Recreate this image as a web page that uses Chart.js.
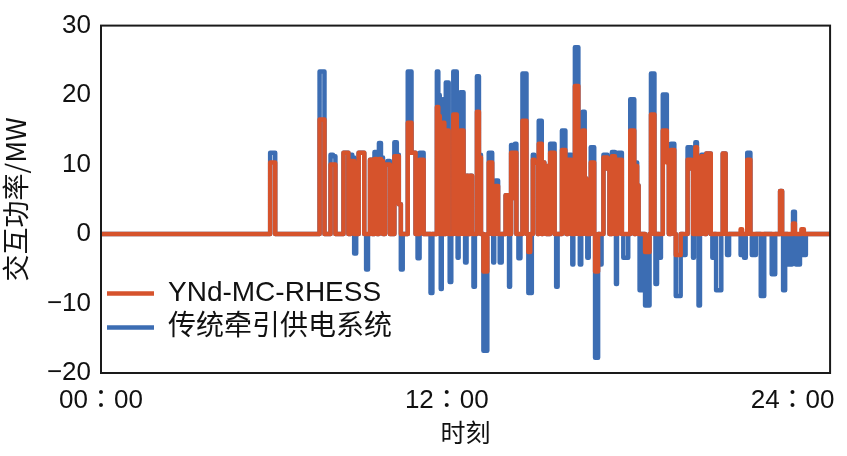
<!DOCTYPE html>
<html lang="zh">
<head>
<meta charset="UTF-8">
<title>交互功率</title>
<script src="https://cdn.jsdelivr.net/npm/chart.js"></script>
<style>
  body { margin: 0; background: #fff; }
  #wrap { width: 847px; height: 456px; }
</style>
</head>
<body>
<div id="wrap"><canvas id="chart" width="847" height="456"></canvas></div>
<script>
// time of day in hours, with the two power traces (MW)
const hours = [
  0, 5.84, 5.90, 6.01, 6.08, 7.55, 7.62, 7.72, 7.79, 7.93,
  8.00, 8.10, 8.17, 8.38, 8.45, 8.55, 8.62, 8.69, 8.75, 8.82,
  8.89, 8.99, 9.10, 9.17, 9.23, 9.30, 9.37, 9.44, 9.54, 9.61,
  9.68, 9.75, 9.82, 9.89, 9.99, 10.06, 10.13, 10.23, 10.30, 10.37,
  10.44, 10.50, 10.61, 10.68, 10.74, 10.81, 10.88, 10.95, 11.02, 11.09,
  11.16, 11.23, 11.40, 11.47, 11.53, 11.64, 11.67, 11.74, 11.77, 11.81,
  11.84, 11.88, 11.95, 11.98, 12.05, 12.08, 12.12, 12.19, 12.26, 12.33,
  12.36, 12.39, 12.43, 12.50, 12.56, 12.60, 12.67, 12.70, 12.77, 12.84,
  12.91, 12.94, 13.01, 13.08, 13.15, 13.22, 13.32, 13.39, 13.42, 13.49,
  13.56, 13.59, 13.63, 13.66, 13.73, 13.76, 13.80, 13.87, 13.94, 14.01,
  14.07, 14.11, 14.14, 14.18, 14.21, 14.25, 14.32, 14.35, 14.38, 14.45,
  14.52, 14.59, 14.66, 14.73, 14.80, 14.86, 14.93, 14.97, 15.00, 15.07,
  15.14, 15.17, 15.21, 15.28, 15.31, 15.35, 15.42, 15.48, 15.52, 15.55,
  15.62, 15.72, 15.76, 15.83, 15.86, 15.96, 16.03, 16.10, 16.13, 16.17,
  16.24, 16.31, 16.34, 16.37, 16.41, 16.48, 16.55, 16.58, 16.65, 16.68,
  16.75, 16.82, 16.86, 16.89, 16.96, 17.03, 17.10, 17.13, 17.16, 17.23,
  17.27, 17.34, 17.40, 17.47, 17.54, 17.61, 17.68, 17.78, 17.82, 17.85,
  17.89, 17.92, 17.95, 18.06, 18.09, 18.16, 18.26, 18.33, 18.40, 18.47,
  18.54, 18.57, 18.64, 18.67, 18.71, 18.78, 18.85, 18.91, 19.02, 19.05,
  19.12, 19.19, 19.22, 19.26, 19.33, 19.40, 19.46, 19.53, 19.60, 19.67,
  19.74, 19.81, 19.88, 19.91, 19.98, 20.08, 20.15, 20.25, 20.32, 20.39,
  20.46, 20.53, 20.56, 20.59, 20.66, 20.70, 20.77, 20.80, 20.87, 20.94,
  20.97, 21.04, 21.14, 21.18, 21.25, 21.31, 21.38, 21.49, 21.56, 21.59,
  21.66, 21.69, 21.76, 21.83, 22.18, 22.21, 22.28, 22.35, 22.40, 22.45,
  22.52, 22.55, 22.62, 22.69, 22.76, 22.86, 22.93, 23.00, 23.03, 23.24,
  23.31, 23.38, 23.41, 23.55, 23.58, 23.62, 23.65, 23.69, 23.72, 23.76,
  23.89, 23.96, 24.00, 24.03, 24.06, 24.10, 24.13, 24.24, 24.27, 24.34,
  24.44, 24.48, 25.30
];

// 传统牵引供电系统 (blue)
const tractionMW = [
  0, 0, 11.7, 11.7, 0, 0, 23.4, 23.4, 0, 0,
  11.4, 11.2, 0, 0, 11.7, 11.7, 0, 11.4, 11.0, -2.8,
  0, 11.7, 11.7, 0, -5.1, 0, 10.7, 0, 11.8, 0,
  13.1, 11.0, 0, 10.0, 10.5, 0, 0, 13.2, 11.4, 4.3,
  -5.1, 0, 0, 23.4, 23.4, 11.7, 11.7, 0, -3.5, 11.7,
  11.7, 0, 0, -8.5, 0, 0, 23.4, 20.0, 0, -7.9,
  0, 19.4, 0, 21.8, 21.8, 0, -6.9, 0, 23.4, 23.4,
  0, -3.4, 0, 20.4, 20.4, 0, -4.1, 8.4, 0, 8.4,
  0, -7.6, 0, 22.7, 11.4, 0, -16.8, -16.8, 0, 11.7,
  11.7, 0, -4.1, 0, 7.7, 7.7, 0, -4.1, 0, 0,
  5.6, 5.6, 0, -7.6, 0, 12.8, 12.8, 5.2, 13.0, 0,
  -3.5, 0, 23.1, 23.1, 0, -8.5, -8.5, 0, 11.4, 10.3,
  10.3, 0, 16.3, 16.3, 0, 10.3, 9.8, 0, 9.8, 0,
  13.0, 13.0, 0, -7.6, 0, 0, 14.9, 14.9, 10.7, 0,
  11.4, 11.4, 0, -4.4, 0, 26.9, 26.9, 0, -4.4, 0,
  17.6, 8.0, 0, -3.4, 0, 12.5, 12.5, 0, -17.8, -17.8,
  0, -4.4, 0, 11.4, 11.4, 9.4, 0, 11.8, 11.8, 0,
  -7.2, 0, 11.7, 11.7, 0, -3.4, -3.4, 0, 19.4, 19.4,
  0, 10.3, 7.0, 0, -8.1, 0, 0, -10.3, -10.3, 0,
  23.1, 23.1, 0, -7.2, 0, -3.4, 0, 20.1, 20.1, 11.2,
  0, 13.0, 13.0, 0, -8.9, -8.9, 0, -3.0, 0, 12.5,
  12.5, 9.4, -3.4, 0, 13.2, 0, -10.3, 0, 11.4, 11.4,
  0, 11.6, 11.6, 0, -3.4, 0, -8.1, -8.1, 0, 11.6,
  11.6, 0, -3.0, 0, 0, -3.0, 0, -3.4, 0, 11.7,
  11.7, 0, -3.0, -3.0, 0, 0, -8.9, -8.9, 0, 0,
  -5.8, -5.8, 0, 0, 6.2, 6.2, 0, -8.1, -8.1, 0,
  -4.4, -4.4, 0, 3.2, 3.2, 0, -4.4, -4.4, 0, -3.0,
  -3.0, 0, 0
];

// YNd-MC-RHESS (orange)
const rhessMW = [
  0, 0, 10.3, 10.3, 0, 0, 16.5, 16.5, 0, 0,
  10.0, 10.0, 0, 0, 11.7, 11.7, 0, 10.5, 10.5, 0,
  0, 11.7, 11.7, 0, 0, 0, 10.7, 0, 10.8, 0,
  10.8, 10.5, 0, 10.0, 10.0, 0, 0, 11.2, 11.2, 4.3,
  0, 0, 0, 16.0, 16.0, 11.7, 11.7, 0, 0, 10.7,
  10.7, 0, 0, 0, 0, 0, 18.3, 17.0, 0, 0,
  0, 16.0, 0, 14.9, 14.9, 0, 0, 0, 17.2, 17.2,
  0, 0, 0, 14.9, 14.9, 0, 0, 8.4, 0, 8.4,
  0, 0, 0, 17.6, 11.0, 0, -5.4, -5.4, 0, 10.3,
  10.3, 0, 0, 0, 6.9, 6.9, 0, 0, 0, 0,
  5.6, 5.6, 0, 0, 0, 11.7, 11.7, 5.2, 11.7, 0,
  0, 0, 16.3, 16.3, 0, -2.6, 0, 0, 10.7, 10.3,
  10.3, 0, 13.0, 13.0, 0, 10.3, 9.8, 0, 9.8, 0,
  11.7, 11.7, 0, 0, 0, 0, 12.1, 12.1, 10.7, 0,
  10.7, 10.7, 0, 0, 0, 21.3, 21.3, 0, 0, 0,
  14.9, 8.0, 0, 0, 0, 10.3, 10.3, 0, -5.4, -5.4,
  0, 0, 0, 11.0, 11.0, 9.4, 0, 11.2, 11.2, 0,
  0, 0, 10.7, 10.7, 0, 0, 0, 0, 14.9, 14.9,
  0, 9.8, 7.0, 0, 0, 0, 0, -2.6, -2.6, 0,
  17.2, 17.2, 0, 0, 0, 0, 0, 14.9, 14.9, 10.3,
  0, 12.1, 12.1, 0, -3.0, -3.0, 0, 0, 0, 10.7,
  10.7, 9.4, 0, 0, 12.5, 0, 0, 0, 11.2, 11.2,
  0, 11.6, 11.6, 0, 0, 0, 0, 0, 0, 11.6,
  11.6, 0, 0, 0, 0, 0.7, 0, 0, 0, 10.7,
  10.7, 0, 0, 0, 0, 0, 0, 0, 0, 0,
  0, 0, 0, 0, 6.2, 6.2, 0, 0, 0, 0,
  0, 0, 0, 1.5, 1.5, 0, 0, 0, 0, 0.7,
  0, 0, 0
];

const xTickHours = [0, 12, 24];
const yMin = -20, yMax = 30, yStep = 10;

const latin = '"Liberation Sans", "Noto Sans CJK TC", sans-serif';
const cjk = '"Noto Sans CJK SC", sans-serif';
const orange = '#d6532c';
const blue = '#3c6db3';

function pts(vals) {
    return hours.map((h, i) => ({ x: h, y: vals[i] }));
}

// black frame round the plot area
const frame = {
    id: 'frame',
    afterDatasetsDraw(chart) {
        const a = chart.chartArea;
        const c = chart.ctx;
        c.save();
        c.strokeStyle = '#1a1a1a';
        c.lineWidth = 2;
        c.strokeRect(a.left, a.top, a.right - a.left, a.bottom - a.top);
        c.restore();
    }
};

new Chart(document.getElementById('chart'), {
    type: 'line',
    data: {
        datasets: [{
            label: 'YNd-MC-RHESS',
            data: pts(rhessMW),
            borderColor: orange,
            backgroundColor: orange,
            borderWidth: 4.5,
            borderJoinStyle: 'round',
            stepped: 'middle',
            pointRadius: 0
        }, {
            label: '传统牵引供电系统',
            data: pts(tractionMW),
            borderColor: blue,
            backgroundColor: blue,
            borderWidth: 4.5,
            borderJoinStyle: 'round',
            stepped: 'middle',
            pointRadius: 0
        }]
    },
    options: {
        responsive: false,
        animation: false,
        layout: { padding: { top: 10, right: 9, left: 0, bottom: 0 } },
        plugins: {
            tooltip: { enabled: false },
            legend: {
                position: 'chartArea',
                align: 'end',
                labels: {
                    usePointStyle: true,
                    pointStyle: 'line',
                    pointStyleWidth: 47,
                    padding: 6,
                    color: '#111',
                    font: { size: 28, family: latin }
                }
            }
        },
        scales: {
            x: {
                type: 'linear',
                min: 0,
                max: 25.3,
                afterBuildTicks: s => { s.ticks = xTickHours.map(v => ({ value: v })); },
                afterFit: s => { s.height = 83; },
                grid: { display: false, drawTicks: false },
                border: { display: false },
                ticks: {
                    autoSkip: false,
                    maxRotation: 0,
                    padding: 12,
                    color: '#111',
                    font: { size: 26, family: latin },
                    callback: v => String(v).padStart(2, '0') + '：00'
                },
                title: {
                    display: true,
                    text: '时刻',
                    color: '#111',
                    font: { size: 25, family: cjk },
                    padding: { top: 0, bottom: 9 }
                }
            },
            y: {
                min: yMin,
                max: yMax,
                afterFit: s => { s.width = 101; },
                grid: { display: false, drawTicks: false },
                border: { display: false },
                ticks: {
                    stepSize: yStep,
                    padding: 10,
                    color: '#111',
                    font: { size: 26, family: latin },
                    callback: v => v < 0 ? '−' + (-v) : String(v)
                },
                title: {
                    display: true,
                    text: '交互功率/MW',
                    color: '#111',
                    font: { size: 27, family: cjk },
                    padding: { top: 0, bottom: 0 }
                }
            }
        }
    },
    plugins: [frame]
});
</script>
</body>
</html>
